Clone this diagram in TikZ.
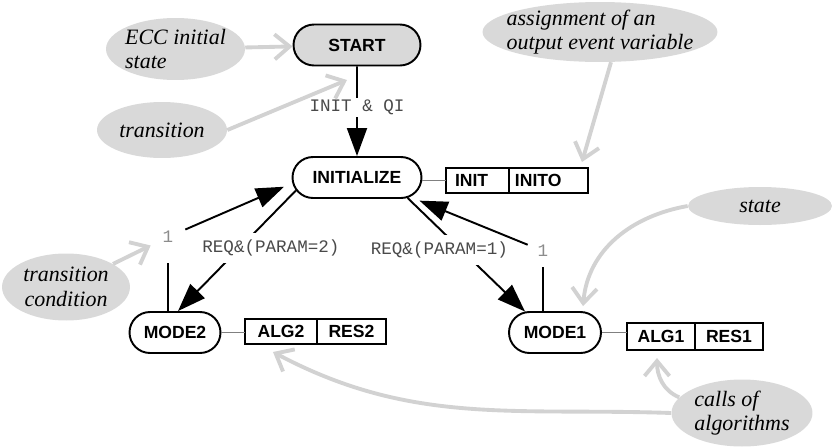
\documentclass[tikz,border=0pt]{standalone}
\usepackage{fontspec}
\setmainfont{Liberation Serif}
\setsansfont{Liberation Sans}
\setmonofont{Liberation Mono}
\usetikzlibrary{shapes.misc,shapes.geometric,arrows.meta}
\definecolor{notegray}{HTML}{D9D9D9}
\definecolor{notelinegray}{HTML}{D2D2D2}
\definecolor{guardgray}{HTML}{4A4A4A}
\definecolor{condgray}{HTML}{8C8C8C}
\definecolor{linkgray}{HTML}{808080}

\begin{document}
\begin{tikzpicture}[x=0.02cm,y=-0.02cm,
  >={Triangle[length=0.56cm,width=0.4cm]},
  statebox/.style={rounded rectangle,draw,line width=1.1pt,minimum height=0.82cm,inner sep=0pt,font=\sffamily\bfseries},
  cell/.style={rectangle,draw,line width=0.9pt,minimum height=0.5cm,inner sep=0pt,outer sep=0pt,anchor=west,font=\sffamily\bfseries},
  trans/.style={draw,line width=1.1pt},
  guard/.style={fill=white,inner sep=0pt,text=guardgray,font=\ttfamily},
  cond/.style={inner sep=0pt,text=condgray,font=\ttfamily},
  link/.style={draw=linkgray,line width=0.8pt},
  note/.style={ellipse,fill=notegray,inner sep=0pt},
  notetext/.style={align=left,font=\itshape\fontsize{12.5}{14}\selectfont},
  notearrow/.style={draw=notelinegray,line width=2.2pt,-{Straight Barb[length=0.3cm,width=0.5cm]}}]
  \useasboundingbox (0,0) rectangle (832,447);

  \node[statebox,fill=notegray,minimum width=2.54cm] (start) at (357,45) {START};
  \node[statebox,minimum width=2.58cm] (init) at (357,177.5) {INITIALIZE};
  \node[statebox,minimum width=1.82cm] (mode2) at (175,332.5) {MODE2};
  \node[statebox,minimum width=1.84cm] (mode1) at (555,332.5) {MODE1};

  \node[cell,text width=0.9cm,inner xsep=0.18cm,align=left] (initact) at (446,180.5) {INIT};
  \node[cell,text width=1.34cm,inner xsep=0.12cm,align=left] (initout) at (initact.east) {INITO};
  \node[cell,minimum width=1.44cm] (alg2) at (245,331.5) {ALG2};
  \node[cell,minimum width=1.38cm] (res2) at (alg2.east) {RES2};
  \node[cell,minimum width=1.36cm,minimum height=0.54cm] (alg1) at (627,336.5) {ALG1};
  \node[cell,minimum width=1.36cm,minimum height=0.54cm] (res1) at (alg1.east) {RES1};

  \draw[link] (initact.west -| init.east) -- (initact.west);
  \draw[link] (mode2.east) -- (mode2.east -| alg2.west);
  \draw[link] (mode1.east) -- (mode1.east -| alg1.west);

  \draw[trans,->] (start) -- node[guard,pos=0.46,minimum height=0.38cm] {INIT \& QI} (init);
  \draw[trans,->] (init.192) -- node[guard,pos=0.475,xshift=0.62cm,minimum height=0.6cm] {REQ\&(PARAM=2)} (mode2.82);
  \draw[trans,->] (init.-22) -- node[guard,pos=0.458,xshift=-0.44cm,minimum height=0.6cm] {REQ\&(PARAM=1)} (mode1.145);

  \node[cond,minimum width=0.68cm,minimum height=1.04cm] (one2) at (168,237) {1};
  \node[cond,minimum width=0.6cm,minimum height=0.64cm] (one1) at (543,251) {1};
  \draw[trans] (one2) -- (one2 |- mode2.north);
  \draw[trans,->,shorten >=0.18cm] (one2) -- (init.185);
  \draw[trans] (one1) -- (one1 |- mode1.north);
  \draw[trans,->,shorten >=0.2cm] (one1) -- (init.-20);

  \node[note,minimum width=2.78cm,minimum height=1.24cm,label={[notetext]center:{ECC initial\\state}}] (ecc) at (175.5,49) {};
  \node[note,minimum width=2.6cm,minimum height=1.12cm,label={[notetext]center:{transition}}] (trnote) at (162,130) {};
  \node[note,minimum width=4.7cm,minimum height=1.2cm,label={[notetext]center:{assignment of an\\output event variable}}] (asgn) at (600,32) {};
  \node[note,minimum width=2.88cm,minimum height=0.76cm,label={[notetext]center:{state}}] (statenote) at (760,206) {};
  \node[note,minimum width=2.56cm,minimum height=1.34cm,label={[notetext,align=center]center:{transition\\condition}}] (tcond) at (66,287) {};
  \node[note,minimum width=2.82cm,minimum height=1.34cm,label={[notetext]center:{calls of\\algorithms}}] (calls) at (742,413) {};

  \coordinate (trpt) at (347,80);
  \coordinate (asgntip) at ([xshift=-0.12cm,yshift=0.12cm]initout.north east);
  \coordinate (statetip) at ([xshift=0.56cm,yshift=0.1cm]mode1.north);
  \coordinate (alg1tip) at ([xshift=-0.08cm,yshift=-0.16cm]alg1.south);
  \coordinate (alg2tip) at ([xshift=-0.16cm,yshift=-0.16cm]alg2.south);

  \draw[notearrow] (ecc) -- (start);
  \draw[notearrow] (trnote.east) -- (trpt);
  \draw[notearrow] (asgn.-70) -- (asgntip);
  \draw[notearrow] (statenote.west) to[out=190,in=85] (statetip);
  \draw[notearrow] (tcond) -- (one2);
  \draw[notearrow] (calls.166) to[out=157,in=-90] (alg1tip);
  \draw[notearrow] (calls.west) to[out=178,in=-28] (alg2tip);
\end{tikzpicture}
\end{document}
